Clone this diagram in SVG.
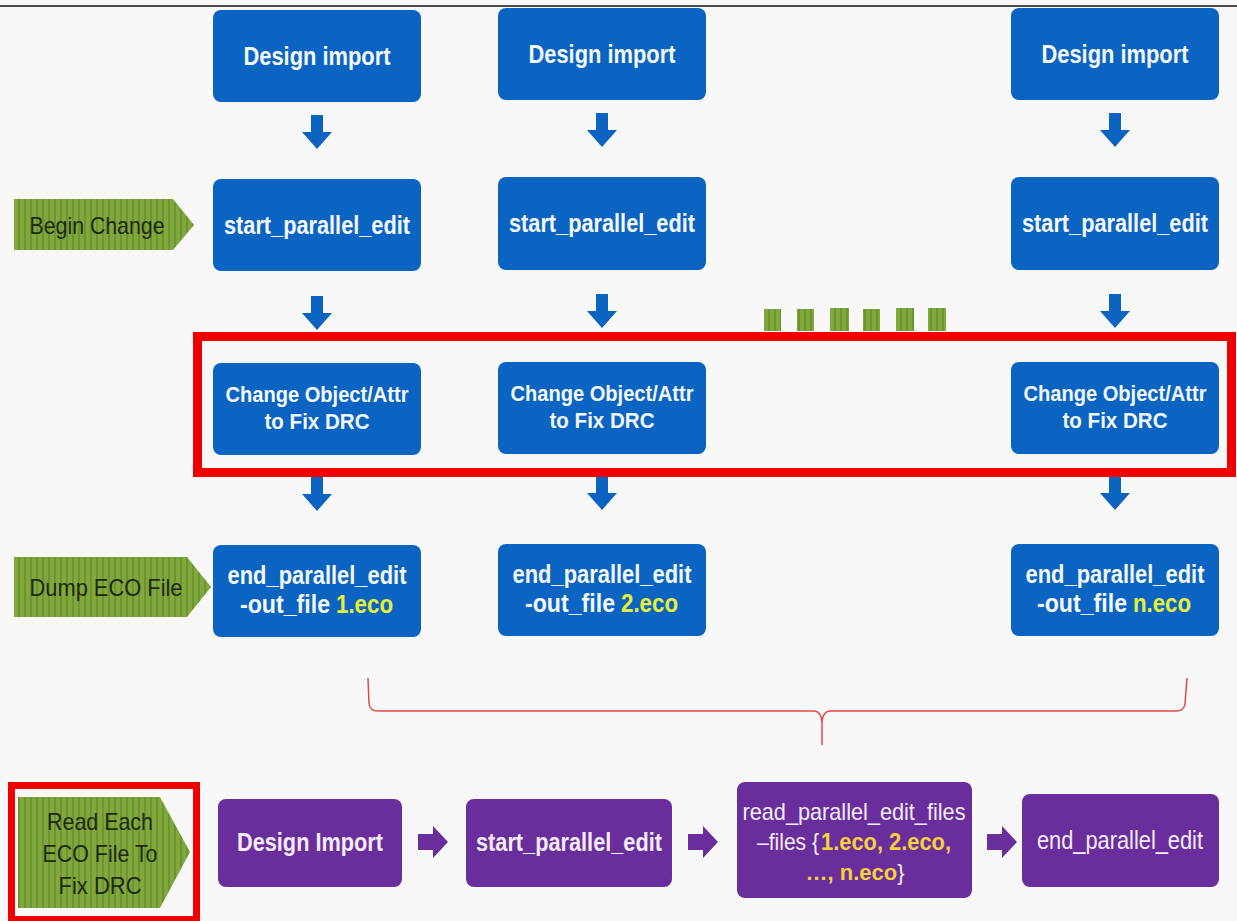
<svg xmlns="http://www.w3.org/2000/svg" width="1237" height="921" viewBox="0 0 1237 921">
<defs>
<pattern id="stripes" patternUnits="userSpaceOnUse" width="6" height="10">
<rect width="6" height="10" fill="#80A83C"/>
<rect x="0" width="2" height="10" fill="#6C9430"/>
</pattern>
<style>
.blue{fill:#0B64C2;}
.purple{fill:#6A2E9C;}
.green{fill:url(#stripes);}
.bt{font-family:"Liberation Sans",Arial,sans-serif;font-weight:bold;fill:#F4F8FF;text-anchor:middle;}
.gt{font-family:"Liberation Sans",Arial,sans-serif;fill:#1E2A10;text-anchor:middle;font-size:24px;}
.pt{font-family:"Liberation Sans",Arial,sans-serif;fill:#F3ECFA;text-anchor:middle;}
text.st{text-anchor:start;}
.y1{fill:#E6F03A;}
.y2{fill:#F5D23A;font-weight:bold;}
.arr{fill:#0B64C2;}
.parr{fill:#6A2E9C;}
.red{fill:none;stroke:#F00000;}
</style>
</defs>
<rect width="1237" height="921" fill="#F8F8F8"/>
<line x1="0" y1="6" x2="1237" y2="6" stroke="#111" stroke-width="1.5"/>

<!-- Column 1 -->
<g id="c1-import"><rect class="blue" x="213" y="10" width="208" height="92" rx="8"/><text class="bt" x="317" y="65" font-size="25" textLength="147" lengthAdjust="spacingAndGlyphs">Design import</text></g>
<g id="c1-start"><rect class="blue" x="213" y="179" width="208" height="92" rx="8"/><text class="bt" x="317" y="234" font-size="25" textLength="186" lengthAdjust="spacingAndGlyphs">start_parallel_edit</text></g>
<g id="c1-change"><rect class="blue" x="213" y="363" width="208" height="92" rx="8"/><text class="bt" x="317" y="402" font-size="22" textLength="183" lengthAdjust="spacingAndGlyphs">Change Object/Attr</text><text class="bt" x="317" y="429" font-size="22" textLength="105" lengthAdjust="spacingAndGlyphs">to Fix DRC</text></g>
<g id="c1-end"><rect class="blue" x="213" y="545" width="208" height="92" rx="8"/><text class="bt" x="317" y="584" font-size="25" textLength="179" lengthAdjust="spacingAndGlyphs">end_parallel_edit</text><text class="bt st" x="240" y="613" font-size="25" textLength="90" lengthAdjust="spacingAndGlyphs">-out_file</text><text class="bt st y1" x="336" y="613" font-size="25" textLength="57" lengthAdjust="spacingAndGlyphs">1.eco</text></g>

<!-- Column 2 -->
<g id="c2-import"><rect class="blue" x="498" y="8" width="208" height="92" rx="8"/><text class="bt" x="602" y="63" font-size="25" textLength="147" lengthAdjust="spacingAndGlyphs">Design import</text></g>
<g id="c2-start"><rect class="blue" x="498" y="177" width="208" height="93" rx="8"/><text class="bt" x="602" y="232" font-size="25" textLength="186" lengthAdjust="spacingAndGlyphs">start_parallel_edit</text></g>
<g id="c2-change"><rect class="blue" x="498" y="362" width="208" height="92" rx="8"/><text class="bt" x="602" y="401" font-size="22" textLength="183" lengthAdjust="spacingAndGlyphs">Change Object/Attr</text><text class="bt" x="602" y="428" font-size="22" textLength="105" lengthAdjust="spacingAndGlyphs">to Fix DRC</text></g>
<g id="c2-end"><rect class="blue" x="498" y="544" width="208" height="92" rx="8"/><text class="bt" x="602" y="583" font-size="25" textLength="179" lengthAdjust="spacingAndGlyphs">end_parallel_edit</text><text class="bt st" x="525" y="612" font-size="25" textLength="90" lengthAdjust="spacingAndGlyphs">-out_file</text><text class="bt st y1" x="621" y="612" font-size="25" textLength="57" lengthAdjust="spacingAndGlyphs">2.eco</text></g>

<!-- Column 3 -->
<g id="c3-import"><rect class="blue" x="1011" y="8" width="208" height="92" rx="8"/><text class="bt" x="1115" y="63" font-size="25" textLength="147" lengthAdjust="spacingAndGlyphs">Design import</text></g>
<g id="c3-start"><rect class="blue" x="1011" y="177" width="208" height="93" rx="8"/><text class="bt" x="1115" y="232" font-size="25" textLength="186" lengthAdjust="spacingAndGlyphs">start_parallel_edit</text></g>
<g id="c3-change"><rect class="blue" x="1011" y="362" width="208" height="92" rx="8"/><text class="bt" x="1115" y="401" font-size="22" textLength="183" lengthAdjust="spacingAndGlyphs">Change Object/Attr</text><text class="bt" x="1115" y="428" font-size="22" textLength="105" lengthAdjust="spacingAndGlyphs">to Fix DRC</text></g>
<g id="c3-end"><rect class="blue" x="1011" y="544" width="208" height="92" rx="8"/><text class="bt" x="1115" y="583" font-size="25" textLength="179" lengthAdjust="spacingAndGlyphs">end_parallel_edit</text><text class="bt st" x="1037" y="612" font-size="25" textLength="90" lengthAdjust="spacingAndGlyphs">-out_file</text><text class="bt st y1" x="1133" y="612" font-size="25" textLength="58" lengthAdjust="spacingAndGlyphs">n.eco</text></g>

<!-- Green labels -->
<g id="lbl-begin"><polygon class="green" points="14,199 173,199 194,225 173,250 14,250"/><text class="gt" x="97" y="234" textLength="135" lengthAdjust="spacingAndGlyphs">Begin Change</text></g>
<g id="lbl-dump"><polygon class="green" points="14,557 187,557 211,587 187,617 14,617"/><text class="gt" x="106" y="596" textLength="153" lengthAdjust="spacingAndGlyphs">Dump ECO File</text></g>
<g id="lbl-read"><polygon class="green" points="18,797 160,797 190,852 160,908 18,908"/><text class="gt" x="100" y="830" textLength="106" lengthAdjust="spacingAndGlyphs">Read Each</text><text class="gt" x="100" y="862" textLength="115" lengthAdjust="spacingAndGlyphs">ECO File To</text><text class="gt" x="100" y="894" textLength="83" lengthAdjust="spacingAndGlyphs">Fix DRC</text></g>

<!-- Dots -->
<g id="dots" fill="url(#stripes)">
<rect x="764" y="309" width="17" height="22"/>
<rect x="797" y="309" width="17" height="22"/>
<rect x="830" y="308" width="19" height="23"/>
<rect x="863" y="309" width="17" height="22"/>
<rect x="896" y="308" width="18" height="23"/>
<rect x="928" y="308" width="18" height="23"/>
</g>

<!-- Purple row -->
<g id="p-import"><rect class="purple" x="218" y="799" width="184" height="88" rx="8"/><text class="pt" x="310" y="851" font-size="25" font-weight="bold" textLength="146" lengthAdjust="spacingAndGlyphs">Design Import</text></g>
<g id="p-start"><rect class="purple" x="466" y="799" width="206" height="88" rx="8"/><text class="pt" x="569" y="851" font-size="25" font-weight="bold" textLength="186" lengthAdjust="spacingAndGlyphs">start_parallel_edit</text></g>
<g id="p-read"><rect class="purple" x="737" y="782" width="235" height="116" rx="8"/>
<text class="pt" x="854" y="820" font-size="24" textLength="223" lengthAdjust="spacingAndGlyphs">read_parallel_edit_files</text>
<text class="pt st" x="757" y="850" font-size="24" textLength="62" lengthAdjust="spacingAndGlyphs">–files {</text>
<text class="pt st y2" x="821" y="850" font-size="24" textLength="130" lengthAdjust="spacingAndGlyphs">1.eco, 2.eco,</text>
<text class="pt" x="855" y="880" font-size="22"><tspan class="y2">…, n.eco</tspan>}</text>
</g>
<g id="p-end"><rect class="purple" x="1022" y="794" width="197" height="93" rx="8"/><text class="pt" x="1120" y="849" font-size="25" textLength="166" lengthAdjust="spacingAndGlyphs">end_parallel_edit</text></g>

<!-- Connectors -->
<g id="connectors">
<polygon class="arr" points="311,115 323,115 323,132 332,132 317,149 302,132 311,132"/>
<polygon class="arr" points="596,113 608,113 608,130 617,130 602,147 587,130 596,130"/>
<polygon class="arr" points="1109,113 1121,113 1121,130 1130,130 1115,147 1100,130 1109,130"/>
<polygon class="arr" points="311,296 323,296 323,313 332,313 317,330 302,313 311,313"/>
<polygon class="arr" points="596,294 608,294 608,311 617,311 602,328 587,311 596,311"/>
<polygon class="arr" points="1109,294 1121,294 1121,311 1130,311 1115,328 1100,311 1109,311"/>
<polygon class="arr" points="311,477 323,477 323,494 332,494 317,511 302,494 311,494"/>
<polygon class="arr" points="596,476 608,476 608,493 617,493 602,510 587,493 596,493"/>
<polygon class="arr" points="1109,476 1121,476 1121,493 1130,493 1115,510 1100,493 1109,493"/>
<polygon class="parr" points="418,834 433,834 433,826 448,842 433,858 433,850 418,850"/>
<polygon class="parr" points="688,834 703,834 703,826 718,842 703,858 703,850 688,850"/>
<polygon class="parr" points="987,834 1002,834 1002,826 1017,842 1002,858 1002,850 987,850"/>
<path d="M368,678 L369,704 Q370,711 378,711 L815,711 Q821,712 822,722 L822,745 M822,722 Q823,712 829,711 L1176,711 Q1184,711 1185,704 L1187,678" fill="none" stroke="#E04848" stroke-width="1.5"/>
</g>

<!-- Highlight boxes -->
<rect class="red" x="197.5" y="336.5" width="1034" height="136" stroke-width="9"/>
<rect class="red" x="11.5" y="785.5" width="185" height="134" stroke-width="7"/>
</svg>
